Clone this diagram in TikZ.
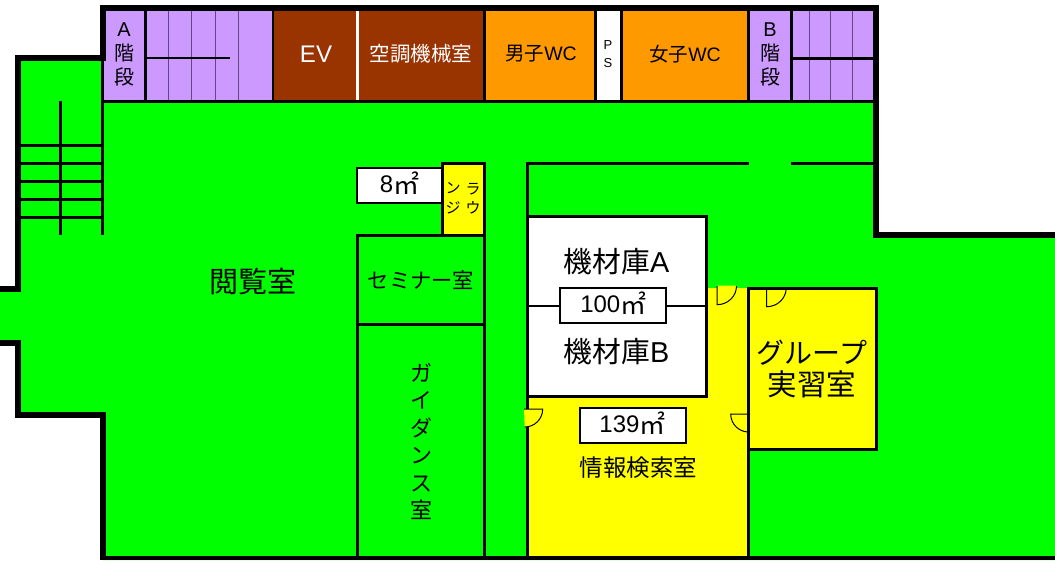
\documentclass[tikz,border=0pt]{standalone}
\usepackage{fontspec}
\setmainfont{Liberation Sans}
\newfontfamily\cjk{Noto Sans CJK JP}
\definecolor{fl}{RGB}{0,255,0}
\definecolor{pur}{RGB}{204,153,255}
\definecolor{brn}{RGB}{153,51,0}
\definecolor{org}{RGB}{255,153,0}
\definecolor{yel}{RGB}{255,255,0}
\definecolor{stp}{RGB}{100,70,130}
\newcommand{\fs}[1]{\fontsize{#1}{#1}\selectfont}
\newcommand{\sqmeter}{\raisebox{-2.2pt}{\smash{\cjk\fs{26}㎡}}}
\tikzset{
  wall/.style={draw=black,line width=6pt,line cap=butt,line join=miter},
  part/.style={draw=black,line width=3pt,line cap=butt},
  tread/.style={draw=stp,line width=1pt},
  lbl/.style={inner sep=0pt,align=center,text=black},
  areabox/.style={lbl,draw=black,line width=2pt,fill=white,minimum height=35pt},
  doorleaf/.style={draw=black,line width=1pt},
}
\begin{document}
\begin{tikzpicture}[x=1pt,y=-1pt]
\useasboundingbox (0,0) rectangle (1055,560);
% floor
\fill[fl] (18,58) -- (103,58) -- (103,8) -- (876,8) -- (876,235) -- (1055,235) -- (1055,560) -- (103,560) -- (103,414.5) -- (18,414.5) -- (18,343) -- (0,343) -- (0,289) -- (18,289) -- cycle;
% top row rooms
\fill[pur] (104,11) rectangle (272,101);
\fill[brn] (273,11) rectangle (484,101);
\fill[org] (485,11) rectangle (595,101);
\fill[white] (596,11) rectangle (621,101);
\fill[org] (622,11) rectangle (748,101);
\fill[pur] (749,11) rectangle (873,101);
\draw[tread] (168,11) -- (168,100) (191.7,11) -- (191.7,100) (215.7,11) -- (215.7,100) (238,11) -- (238,100);
\draw[tread] (809.7,11) -- (809.7,100) (830.3,11) -- (830.3,100) (852.3,11) -- (852.3,100);
\draw[draw=black,line width=2.7pt] (147,58) -- (230,58);
\draw[draw=black,line width=3pt] (793,58) -- (873,58);
\draw[part] (103,101.5) -- (873,101.5);
\draw[part] (145.5,11) -- (145.5,101);
\draw[part,line width=2.6pt] (273,11) -- (273,101);
\draw[draw=white,line width=3pt] (357.5,11) -- (357.5,100);
\draw[part] (484.5,11) -- (484.5,101);
\draw[part] (595.5,11) -- (595.5,101);
\draw[part] (621.5,11) -- (621.5,101);
\draw[part] (748.5,11) -- (748.5,101);
\draw[part] (791.5,11) -- (791.5,101);
% left stair
\draw[part] (60,101) -- (60,235);
\draw[part] (102.5,58) -- (102.5,235);
\foreach \yy in {145,163,181,199,217} \draw[part] (21,\yy) -- (104,\yy);
% central rooms
\fill[yel] (442.5,163) rectangle (484.5,235);
\draw[part] (442.5,235) -- (442.5,163) -- (484.5,163) -- (484.5,235);
\draw[part] (357.5,560) -- (357.5,235) -- (484.5,235) -- (484.5,560);
\draw[part] (357.5,324.5) -- (484.5,324.5);
\draw[part] (527.5,560) -- (527.5,163) -- (749,163);
\draw[part] (791,163) -- (873,163);
% yellow rooms
\fill[yel] (527.5,396.5) -- (706.5,396.5) -- (706.5,288) -- (748.5,288) -- (748.5,557) -- (527.5,557) -- cycle;
\fill[yel] (748.5,288.5) rectangle (876,449.5);
\draw[part] (748.5,560) -- (748.5,288.5) -- (876,288.5) -- (876,449.5) -- (748.5,449.5);
\draw[part] (527.5,560) -- (527.5,396.5);
% store rooms
\fill[white] (527.5,216.5) rectangle (706.5,396.5);
\draw[part] (527.5,396.5) rectangle (706.5,216.5);
\draw[part,line width=2.4pt] (527.5,306) -- (706.5,306);
% doors
\fill[yel] (717,285.5) -- (717,304.7) arc[start angle=90,end angle=0,x radius=19.5,y radius=19] -- cycle;
\draw[doorleaf] (717,286) -- (717,304.7) arc[start angle=90,end angle=0,x radius=19.5,y radius=18.7];
\draw[doorleaf] (766.7,288) -- (766.7,306.7) arc[start angle=90,end angle=0,x radius=19.5,y radius=18.7];
\fill[yel] (524,409) -- (542.7,409) arc[start angle=0,end angle=90,radius=18] -- cycle;
\draw[doorleaf] (524,409) -- (542.7,409) arc[start angle=0,end angle=90,radius=18];
\draw[doorleaf] (748,414) -- (730.7,414) arc[start angle=180,end angle=90,radius=18];
% outer wall
\draw[wall] (0,289) -- (18,289) -- (18,58) -- (103,58) -- (103,8) -- (876,8) -- (876,235) -- (1055,235);
\draw[wall] (0,343) -- (18,343) -- (18,414.5) -- (103,414.5) -- (103,560);
\fill[black] (100,556) rectangle (1055,560);
% labels
\node[lbl,font=\fs{20}] (stairA) at (124,54) {A\\[4pt]\cjk 階\\[4pt]\cjk 段};
\node[lbl,text=white,font=\fs{24}] (ev) at (316,54) {EV};
\node[lbl,text=white,font=\fs{20.5}] (kucho) at (421,54) {\cjk 空調機械室};
\node[lbl,font=\fs{19.5}] (mwc) at (541,54) {{\cjk 男子}WC};
\node[lbl,font=\fs{13}] (ps) at (608,54) {P\\[5pt]S};
\node[lbl,font=\fs{19.5}] (fwc) at (685,54) {{\cjk 女子}WC};
\node[lbl,font=\fs{20}] (stairB) at (770,54) {B\\[4pt]\cjk 階\\[4pt]\cjk 段};
\node[areabox,font=\fs{24},minimum width=85pt] (a8) at (399.5,185.5) {8\sqmeter};
\node[lbl,font=\fs{15}] (lounge1) at (473,198.5) {\cjk ラ\\[4.5pt]\cjk ウ};
\node[lbl,font=\fs{15}] (lounge2) at (453,198.5) {\cjk ン\\[4.5pt]\cjk ジ};
\node[lbl,font=\fs{29}] (etsuran) at (253,281) {\cjk 閲覧室};
\node[lbl,font=\fs{21.3}] (seminar) at (421,280) {\cjk セミナー室};
\node[lbl,font=\fs{22}] (guidance) at (421,441.5) {\cjk ガ\\[5.4pt]\cjk イ\\[5.4pt]\cjk ダ\\[5.4pt]\cjk ン\\[5.4pt]\cjk ス\\[5.4pt]\cjk 室};
\node[lbl,font=\fs{28.8}] (kizaiA) at (616.5,262) {{\cjk 機材庫}A};
\node[lbl,font=\fs{28.8}] (kizaiB) at (616.5,352) {{\cjk 機材庫}B};
\node[areabox,font=\fs{24},minimum width=106pt] (a100) at (613.3,305) {100\sqmeter};
\node[areabox,font=\fs{24},minimum width=106pt] (a139) at (632.5,425.3) {139\sqmeter};
\node[lbl,font=\fs{23.5}] (joho) at (638.5,468) {\cjk 情報検索室};
\node[lbl,font=\fs{28}] (group) at (812,369) {\cjk グループ\\[4pt]\cjk\fs{29.5}実習室};
\end{tikzpicture}
\end{document}
